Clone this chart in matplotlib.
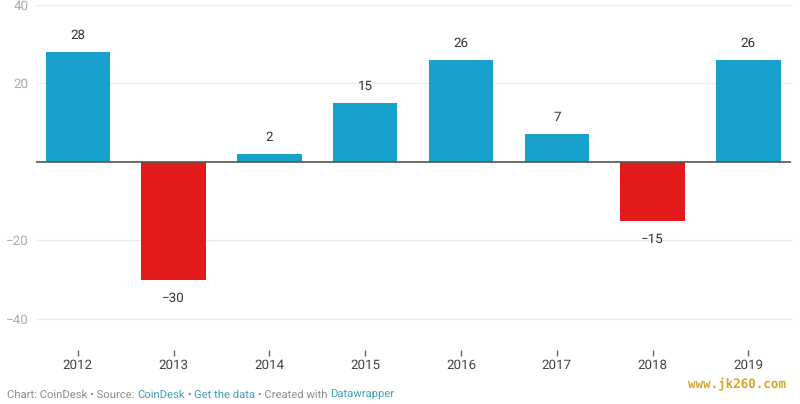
import matplotlib
matplotlib.use("Agg")
import matplotlib.pyplot as plt

years = ["2012", "2013", "2014", "2015", "2016", "2017", "2018", "2019"]
values = [28, -30, 2, 15, 26, 7, -15, 26]
yticks = [-40, -20, 20, 40]
footer = [("Chart: CoinDesk • Source: ", "#8a8a8a"), ("CoinDesk", "#3f9fb5"), (" • ", "#8a8a8a"),
          ("Get the data", "#3f9fb5"), (" • Created with ", "#8a8a8a"), ("Datawrapper", "#3f9fb5")]
BLUE, RED = "#18a1cd", "#e31a1c"

plt.rcParams["font.family"] = ["Roboto", "DejaVu Sans"]
plt.rcParams["text.hinting"] = "none"
W, H = 800, 404
fig = plt.figure(figsize=(W / 100, H / 100), dpi=100)
L, R, T, B = 36, 791, 5, 350
ax = fig.add_axes([L / W, 1 - B / H, (R - L) / W, (B - T) / H])
ax.set_xlim((L - 77.8) / 95.8, (R - 77.8) / 95.8)
ax.set_ylim(-(B - 162) / 3.92, 40)

colors = [BLUE if v > 0 else RED for v in values]
xs = list(range(len(years)))
ax.bar(xs, values, width=64.6 / 95.8, color=colors, zorder=3)
for y in yticks:
    ax.axhline(y, color="#ebebeb", lw=1, zorder=1, clip_on=False)
ax.axhline(0, color="#555555", lw=1.2, zorder=4)

for x, v in zip(xs, values):
    label = str(v).replace("-", "\u2212")
    off = 16.5 if v > 0 else -19
    ax.annotate(label, (x, v), xytext=(0, off * 0.72), textcoords="offset points",
                ha="center", va="center", fontsize=9.6, color="#333333", zorder=5)

for s in ax.spines.values():
    s.set_visible(False)
ax.set_xticks(xs, years)
ax.tick_params(axis="x", length=4, width=1, color="#666666", labelcolor="#444444",
               labelsize=9.6, pad=2.5)
ax.set_yticks(yticks, [str(v).replace("-", "\u2212") for v in yticks])
ax.tick_params(axis="y", length=0, labelcolor="#aaaaaa", labelsize=9.6, pad=5.5)
ax.patch.set_alpha(0)

fig.canvas.draw()
r = fig.canvas.get_renderer()
x = 7
for s, c in footer:
    t = fig.text(x / W, 1 - 394.5 / H, s.replace(" ", "\u00a0"), color=c, fontsize=8.13, va="center", ha="left")
    x = t.get_window_extent(r).x1

fig.text(688 / W, 1 - 384 / H, "www.jk260.com", color="#d9a528", fontsize=9, va="center", ha="left",
         family=["DejaVu Sans Mono"], fontweight="bold")
fig.savefig("out.png", dpi=100)
